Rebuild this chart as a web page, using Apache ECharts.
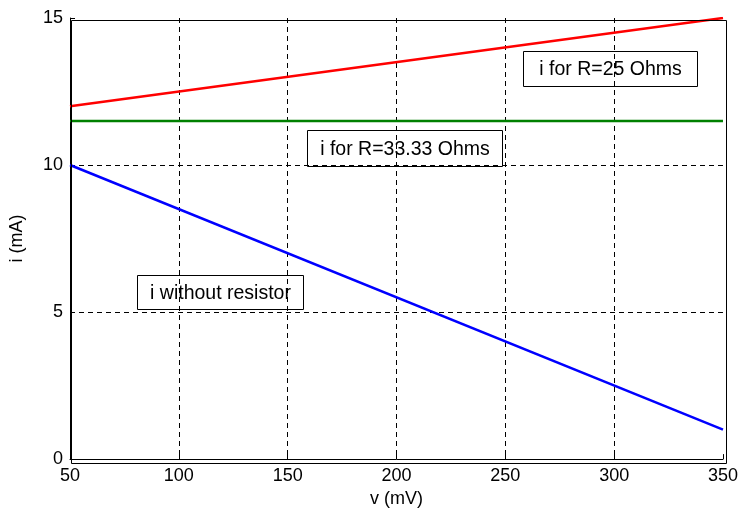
<!DOCTYPE html>
<html><head><meta charset="utf-8">
<script src="https://cdn.jsdelivr.net/npm/echarts@6/dist/echarts.min.js"></script>
<style>html,body{margin:0;padding:0;background:#fff}#c{width:741px;height:513px}</style>
</head><body><div id="c"></div>
<script>
var vValues = [50, 350];
var iWithR25 = [12, 15];
var iWithR3333 = [11.5, 11.5];
var iWithout = [10, 1];
var labelR25 = 'i for R=25 Ohms';
var labelR3333 = 'i for R=33.33 Ohms';
var labelWithout = 'i without resistor';

function pts(ys){ return vValues.map(function(x,k){ return [x, ys[k]]; }); }
var font = 'Liberation Sans, Arial, sans-serif';
var chart = echarts.init(document.getElementById('c'));
var grid = {left:69, right:17, top:18, bottom:52};
function box(x,y,w,h,t){
  return {type:'group', left:x, top:y, children:[
    {type:'rect', shape:{x:0,y:0,width:w,height:h}, style:{fill:'rgba(255,255,255,0)', stroke:'#000', lineWidth:1}, z:10},
    {type:'text', style:{x:w/2, y:h/2+1, text:t, textAlign:'center', textVerticalAlign:'middle', fontFamily:font, fontSize:19.5, fill:'#000'}, z:11}
  ]};
}
chart.setOption({
  animation:false,
  grid:grid,
  xAxis:{type:'value', min:50, max:350, interval:50, name:'v (mV)', nameLocation:'middle', nameGap:30,
    nameTextStyle:{fontFamily:font, fontSize:18, color:'#000'},
    axisLine:{show:true, onZero:false, lineStyle:{color:'#000', width:1}},
    axisTick:{show:true, inside:true, length:5, lineStyle:{color:'#000'}},
    axisLabel:{fontFamily:font, fontSize:18, color:'#000', margin:8},
    splitLine:{show:true, showMinLine:false, showMaxLine:false, lineStyle:{color:'#000', type:[5,4], width:1}}},
  yAxis:{type:'value', min:0, max:15, interval:5, name:'i (mA)', nameLocation:'middle', nameGap:44,
    nameTextStyle:{fontFamily:font, fontSize:18, color:'#000'},
    axisLine:{show:true, onZero:false, lineStyle:{color:'#000', width:1}},
    axisTick:{show:true, inside:true, length:5, lineStyle:{color:'#000'}},
    axisLabel:{fontFamily:font, fontSize:18, color:'#000', margin:7},
    splitLine:{show:true, showMinLine:false, showMaxLine:false, lineStyle:{color:'#000', type:[5,4], width:1}}},
  series:[
    {type:'line', data:pts(iWithR25), symbol:'none', lineStyle:{color:'#ff0000', width:2.5}},
    {type:'line', data:pts(iWithR3333), symbol:'none', lineStyle:{color:'#008000', width:2.5}},
    {type:'line', data:pts(iWithout), symbol:'none', lineStyle:{color:'#0000ff', width:2.5}}
  ],
  graphic:[
    {type:'rect', left:69, top:18, shape:{width:655, height:443}, style:{fill:'none', stroke:'#000', lineWidth:1}, silent:true, z:5},
    box(523,51,174,35,labelR25),
    box(307,130,195,36,labelR3333),
    box(137,275,166,34,labelWithout)
  ]
});
</script></body></html>
